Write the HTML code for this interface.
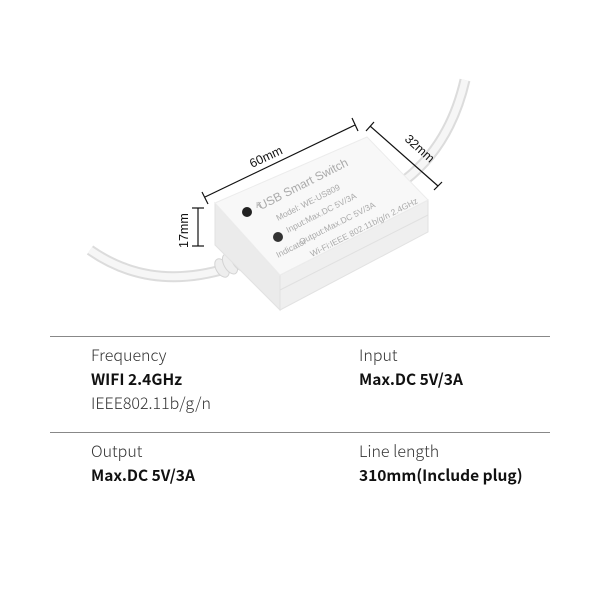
<!DOCTYPE html>
<html><head><meta charset="utf-8"><style>
html,body{margin:0;padding:0;background:#fff;width:600px;height:600px;overflow:hidden;position:relative}
.t{position:absolute;font-family:"Noto Sans CJK SC","Liberation Sans",sans-serif;color:#222;white-space:nowrap;line-height:1}
.l{font-weight:300;font-size:16px;color:#333}
.b{font-weight:700;font-size:15.5px;color:#111}
.hr{position:absolute;left:50px;width:500px;height:1px;background:#888}
</style></head><body>
<svg width="600" height="330" style="position:absolute;left:0;top:0" xmlns="http://www.w3.org/2000/svg">
<g fill="none" stroke-linecap="butt">
<path d="M90 250 Q150 292 228 268" stroke="#dcdcdc" stroke-width="11"/>
<path d="M90 250 Q150 292 228 268" stroke="#f6f6f6" stroke-width="7"/>
<path d="M405 180 Q450 145 465 80" stroke="#dcdcdc" stroke-width="11"/>
<path d="M405 180 Q450 145 465 80" stroke="#f6f6f6" stroke-width="7"/>
</g>
<g fill="#eee" stroke="#d4d4d4">
<ellipse cx="222" cy="268" rx="6" ry="10" transform="rotate(-30 222 268)"/>
<ellipse cx="230" cy="264" rx="6" ry="11" transform="rotate(-30 230 264)"/>
<ellipse cx="238" cy="260" rx="6" ry="12" transform="rotate(-30 238 260)"/>
</g>
<polygon points="215,245 280,310 280,275 215,203" fill="#ebebeb" stroke="#e2e2e2"/>
<polygon points="280,275 428,200 428,232 280,310" fill="#efefef" stroke="#e2e2e2"/>
<line x1="280" y1="290" x2="428" y2="215" stroke="#e0e0e0"/>
<polygon points="215,203 367,137 428,200 280,275" fill="#f8f8f8" stroke="#ececec"/>
<circle cx="247" cy="212" r="5" fill="#222"/>
<circle cx="278" cy="237" r="5" fill="#333"/>
<g font-family="Liberation Sans,sans-serif" fill="#aaa" font-size="8.5">
<text transform="translate(261,210) rotate(-27)" font-size="12">USB Smart Switch</text>
<text transform="translate(278,221) rotate(-27)">Model: WE-US809</text>
<text transform="translate(288,233) rotate(-27)">Input:Max.DC 5V/3A</text>
<text transform="translate(301,245) rotate(-27)">Output:Max.DC 5V/3A</text>
<text transform="translate(312,257) rotate(-27)">Wi-Fi:IEEE 802.11b/g/n 2.4GHz</text>
<text transform="translate(278,258) rotate(-27)">Indicator</text>
<text x="256" y="208">K</text>
</g>
<g stroke="#111" stroke-width="1.2">
<line x1="205" y1="197" x2="355" y2="125"/><line x1="202" y1="192" x2="208" y2="204"/><line x1="352" y1="118" x2="358" y2="131"/>
<line x1="370" y1="126" x2="438" y2="186"/><line x1="366" y1="131" x2="374" y2="122"/><line x1="434" y1="190" x2="442" y2="182"/>
<line x1="198" y1="208" x2="198" y2="246"/><line x1="192" y1="208" x2="204" y2="208"/><line x1="192" y1="246" x2="204" y2="246"/>
</g>
<g font-family="Liberation Sans,sans-serif" font-size="12.5" fill="#111">
<text transform="translate(252,168) rotate(-25)">60mm</text>
<text transform="translate(404,140) rotate(42)">32mm</text>
<text transform="translate(188,248) rotate(-90)">17mm</text>
</g>
</svg>
<div class="hr" style="top:336px"></div>
<div class="hr" style="top:432px"></div>
<div class="t l" style="left:91px;top:346px">Frequency</div>
<div class="t b" style="left:91px;top:372px">WIFI 2.4GHz</div>
<div class="t l" style="left:91px;top:394px">IEEE802.11b/g/n</div>
<div class="t l" style="left:359px;top:346px">Input</div>
<div class="t b" style="left:359px;top:372px">Max.DC 5V/3A</div>
<div class="t l" style="left:91px;top:442px">Output</div>
<div class="t b" style="left:91px;top:468px">Max.DC 5V/3A</div>
<div class="t l" style="left:359px;top:442px">Line length</div>
<div class="t b" style="left:359px;top:468px">310mm(Include plug)</div>
</body></html>
